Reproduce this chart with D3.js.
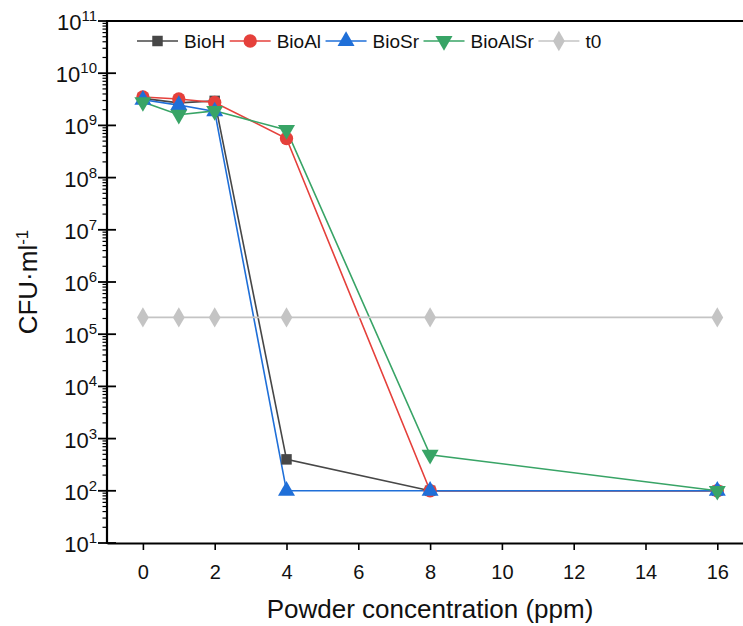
<!DOCTYPE html>
<html><head><meta charset="utf-8">
<script src="https://cdn.jsdelivr.net/npm/d3@7"></script>
<style>body{margin:0;background:#fff}svg{display:block;font-family:"Liberation Sans",Arial,sans-serif}</style>
</head><body><svg id="c" width="743" height="626"></svg>
<script>
const concentrations = [0, 1, 2, 4, 8, 16];
const seriesNames = ["BioH", "BioAl", "BioSr", "BioAlSr", "t0"];
const bioH    = [3.3e9, 2.7e9, 2.95e9, 400, 100, 100];
const bioAl   = [3.5e9, 3.2e9, 2.75e9, 5.6e8, 100, 100];
const bioSr   = [3.1e9, 2.45e9, 1.85e9, 100, 100, 100];
const bioAlSr = [2.8e9, 1.6e9, 1.9e9, 8.2e8, 490, 100];
const t0      = [2.1e5, 2.1e5, 2.1e5, 2.1e5, 2.1e5, 2.1e5];
const xTicks = [0, 2, 4, 6, 8, 10, 12, 14, 16];
const yTickExps = [1, 2, 3, 4, 5, 6, 7, 8, 9, 10, 11];

const colors = ["#474747", "#e5403b", "#1f6fd8", "#38a466", "#c4c4c4"];
const symbols = [d3.symbolSquare, d3.symbolCircle, d3.symbolTriangle, "tri-down", d3.symbolDiamond];
const symSizes = [110, 140, 125, 125, 100];
const values = [bioH, bioAl, bioSr, bioAlSr, t0];

const svg = d3.select("#c");
const L = 107, T = 21, B = 543;
const x = d3.scaleLinear().domain([-1, 17]).range([L, L + 18 * 35.9]);
const y = d3.scaleLog().domain([10, 1e11]).range([B, T]);

function sym(i, sz) {
  if (symbols[i] === "tri-down") {
    return d3.symbol().type(d3.symbolTriangle).size(sz)();
  }
  return d3.symbol().type(symbols[i]).size(sz)();
}
function symTransform(i, px, py) {
  return `translate(${px},${py})` + (symbols[i] === "tri-down" ? " rotate(180)" : (symbols[i] === d3.symbolDiamond ? " scale(1.1,1.1)" : ""));
}

// series
const line = d3.line().x(d => x(d[0])).y(d => y(d[1]));
values.forEach((vals, i) => {
  const pts = concentrations.map((c, k) => [c, vals[k]]);
  svg.append("path").attr("d", line(pts)).attr("fill", "none")
    .attr("stroke", colors[i]).attr("stroke-width", 1.6);
});
values.forEach((vals, i) => {
  const pts = concentrations.map((c, k) => [c, vals[k]]);
  svg.append("g").selectAll("path").data(pts).join("path")
    .attr("d", sym(i, symSizes[i]))
    .attr("transform", d => symTransform(i, x(d[0]), y(d[1])))
    .attr("fill", colors[i]);
});

// x axis
const xAxis = d3.axisBottom(x).tickValues(xTicks).tickSize(7).tickSizeOuter(0).tickFormat(d3.format("d"));
const gx = svg.append("g").attr("transform", `translate(0,${B})`).call(xAxis);
gx.select(".domain").attr("stroke", "#000").attr("stroke-width", 2.2);
gx.selectAll(".tick line").attr("stroke", "#000").attr("stroke-width", 1.6);
gx.selectAll(".tick text").attr("font-size", 20).attr("fill", "#111").attr("dy", 0).attr("y", 36);

// y axis: major ticks crossing, minor ticks outward
const gy = svg.append("g").attr("transform", `translate(${L},0)`);
const minor = [];
yTickExps.slice(0, -1).forEach(e => { for (let m = 2; m <= 9; m++) minor.push(m * Math.pow(10, e)); });
gy.selectAll("line.minor").data(minor).join("line").attr("class", "minor")
  .attr("x1", -4.5).attr("x2", 0).attr("y1", d => y(d)).attr("y2", d => y(d))
  .attr("stroke", "#000").attr("stroke-width", 1.2);
gy.selectAll("line.major").data(yTickExps).join("line").attr("class", "major")
  .attr("x1", -9).attr("x2", 9).attr("y1", d => y(Math.pow(10, d))).attr("y2", d => y(Math.pow(10, d)))
  .attr("stroke", "#000").attr("stroke-width", 1.8);
gy.append("line").attr("x1", 0).attr("x2", 0).attr("y1", T - 1).attr("y2", B + 1)
  .attr("stroke", "#000").attr("stroke-width", 2.2);
const lab = gy.selectAll("text.yl").data(yTickExps).join("text").attr("class", "yl")
  .attr("x", -10).attr("y", d => y(Math.pow(10, d)) + 9)
  .attr("text-anchor", "end").attr("font-size", 22).attr("fill", "#111");
lab.append("tspan").text("10");
lab.append("tspan").attr("dy", "-0.6em").attr("font-size", 15).text(d => d);

// top border
svg.append("line").attr("x1", L).attr("x2", 743).attr("y1", T).attr("y2", T)
  .attr("stroke", "#000").attr("stroke-width", 2.2);

// titles
svg.append("text").attr("x", 430).attr("y", 618).attr("text-anchor", "middle")
  .attr("font-size", 26).attr("fill", "#111").text("Powder concentration (ppm)");
const yt = svg.append("text").attr("transform", "translate(37,282) rotate(-90)")
  .attr("text-anchor", "middle").attr("font-size", 26).attr("fill", "#111");
yt.append("tspan").text("CFU·ml");
yt.append("tspan").attr("dy", "-0.55em").attr("font-size", 17).text("-1");

// legend
let lx = 137;
const ly = 41;
seriesNames.forEach((name, i) => {
  const g = svg.append("g");
  g.append("line").attr("x1", lx).attr("x2", lx + 41).attr("y1", ly).attr("y2", ly)
    .attr("stroke", colors[i]).attr("stroke-width", 1.6);
  g.append("path").attr("d", sym(i, symSizes[i])).attr("transform", symTransform(i, lx + 20.5, ly)).attr("fill", colors[i]);
  const t = g.append("text").attr("x", lx + 47).attr("y", ly).attr("dy", "0.35em")
    .attr("font-size", 19).attr("fill", "#111").text(name);
  lx = lx + 47 + t.node().getComputedTextLength() + 4.5;
});
</script></body></html>
